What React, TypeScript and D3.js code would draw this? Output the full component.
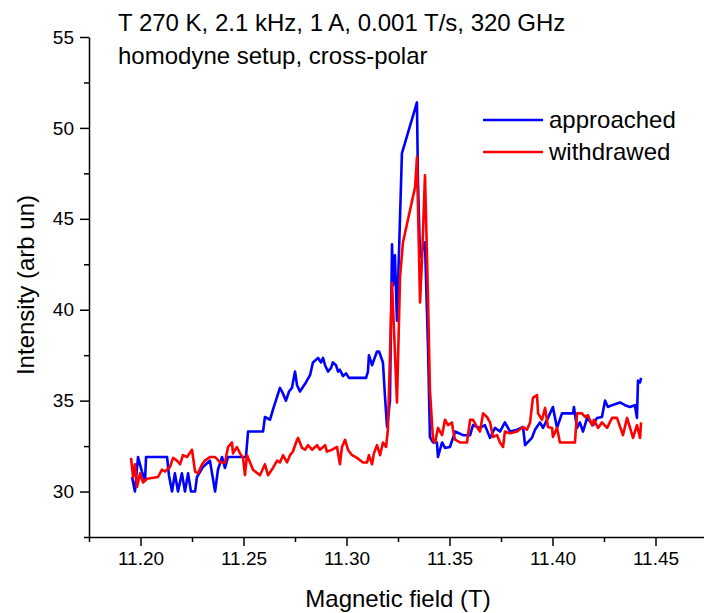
import React, { useEffect, useRef } from "react";
import * as d3 from "d3";

// field (T), intensity (arb un)
const approachedField = [
  11.1959, 11.1973, 11.1988, 11.2007, 11.2022, 11.2027, 11.2129, 11.2138, 11.2153, 11.2167,
  11.2182, 11.2201, 11.2216, 11.2231, 11.2245, 11.2265, 11.2274, 11.2303, 11.2337, 11.2362,
  11.2376, 11.2396, 11.241, 11.2425, 11.2512, 11.2522, 11.2595, 11.2604, 11.2629, 11.2643,
  11.2677, 11.2687, 11.2706, 11.2721, 11.2735, 11.275, 11.276, 11.2774, 11.2803, 11.2823,
  11.2837, 11.2862, 11.2876, 11.2886, 11.2896, 11.291, 11.2925, 11.2934, 11.2949, 11.2959,
  11.2968, 11.2983, 11.2998, 11.3012, 11.3095, 11.3104, 11.3109, 11.3124, 11.3148, 11.3158,
  11.3177, 11.3187, 11.3197, 11.3211, 11.3221, 11.3226, 11.3235, 11.3245, 11.3269, 11.3342,
  11.3347, 11.3357, 11.3381, 11.3396, 11.3405, 11.342, 11.3439, 11.3444, 11.3464, 11.3478,
  11.3502, 11.3527, 11.3566, 11.36, 11.3614, 11.3648, 11.3672, 11.3697, 11.3721, 11.3745,
  11.3769, 11.3794, 11.3828, 11.3857, 11.3867, 11.39, 11.3915, 11.3939, 11.3954, 11.3978,
  11.4002, 11.4022, 11.4046, 11.41, 11.4104, 11.4119, 11.4133, 11.4148, 11.4168, 11.4197,
  11.4216, 11.424, 11.4255, 11.4269, 11.4289, 11.4328, 11.4352, 11.4376, 11.44, 11.441,
  11.4415, 11.4425, 11.443,
];
const approachedValue = [
  30.8, 30.0, 31.9, 31.1, 30.6, 31.9, 31.9, 30.9, 30.0, 31.0,
  30.0, 31.0, 30.0, 31.0, 30.0, 30.0, 30.8, 31.35, 31.7, 30.0,
  31.2, 31.9, 31.3, 31.9, 31.9, 33.3, 33.3, 34.1, 33.95, 34.5,
  35.7, 35.5, 35.0, 35.5, 35.7, 36.6, 35.85, 35.5, 36.0, 36.4,
  37.1, 37.35, 37.1, 37.35, 36.95, 36.6, 36.8, 37.1, 36.95, 36.6,
  36.7, 36.35, 36.5, 36.25, 36.25, 36.6, 37.5, 36.95, 37.7, 37.7,
  37.1, 35.2, 33.55, 35.0, 43.6, 41.35, 43.0, 39.4, 48.6, 51.4,
  47.0, 42.9, 43.7, 37.8, 33.0, 32.7, 32.7, 31.9, 32.7, 32.4,
  32.45, 33.3, 33.1, 33.1, 33.65, 33.5, 33.65, 32.95, 33.5, 33.3,
  33.8, 33.3, 33.4, 33.55, 32.55, 32.95, 33.4, 33.8, 33.5, 34.05,
  34.65, 33.5, 34.3, 34.3, 34.65, 33.5, 33.8, 33.3, 34.05, 33.65,
  34.05, 34.1, 35.0, 34.65, 34.75, 34.9, 34.75, 34.65, 34.75, 34.05,
  36.1, 36.0, 36.25,
];

const withdrawedField = [
  11.1954, 11.1964, 11.1973, 11.1983, 11.1998, 11.2012, 11.2032, 11.2085, 11.2104, 11.2119,
  11.2143, 11.2158, 11.2177, 11.2192, 11.2206, 11.2226, 11.225, 11.2265, 11.2279, 11.2299,
  11.2313, 11.2337, 11.2362, 11.2386, 11.241, 11.2425, 11.2444, 11.2449, 11.2468, 11.2483,
  11.2498, 11.2507, 11.2517, 11.2532, 11.2546, 11.258, 11.2604, 11.2619, 11.2643, 11.2663,
  11.2677, 11.2692, 11.2711, 11.2726, 11.274, 11.276, 11.2765, 11.2784, 11.2799, 11.2813,
  11.2833, 11.2857, 11.2871, 11.2896, 11.2905, 11.293, 11.2954, 11.2968, 11.2978, 11.2993,
  11.3007, 11.3027, 11.3051, 11.308, 11.31, 11.3109, 11.3124, 11.3133, 11.3148, 11.3163,
  11.3177, 11.3192, 11.3201, 11.3221, 11.3245, 11.326, 11.3274, 11.3333, 11.3342, 11.3357,
  11.3367, 11.3381, 11.3396, 11.3405, 11.342, 11.343, 11.3444, 11.3464, 11.3478, 11.3493,
  11.3512, 11.3517, 11.3527, 11.3551, 11.3585, 11.36, 11.3614, 11.3633, 11.3648, 11.3663,
  11.3682, 11.3697, 11.3711, 11.3731, 11.3745, 11.376, 11.3769, 11.3794, 11.3828, 11.3857,
  11.3876, 11.3891, 11.3905, 11.3925, 11.393, 11.3949, 11.3964, 11.3978, 11.3998, 11.4002,
  11.4022, 11.4036, 11.4109, 11.4119, 11.4143, 11.4158, 11.4172, 11.4192, 11.4201, 11.4221,
  11.424, 11.4265, 11.4289, 11.4313, 11.4342, 11.4362, 11.4391, 11.441, 11.4425, 11.443,
];
const withdrawedValue = [
  31.85, 30.8, 31.5, 30.25, 31.0, 30.5, 30.7, 30.8, 31.2, 31.1,
  31.35, 31.85, 31.7, 31.5, 32.0, 31.9, 32.3, 31.1, 31.0, 31.5,
  31.7, 31.9, 31.9, 31.6, 31.6, 32.45, 32.7, 32.1, 32.45, 32.1,
  31.85, 30.9, 32.0, 31.6, 31.2, 30.9, 31.5, 30.9, 31.3, 31.7,
  31.6, 32.0, 31.6, 32.0, 32.2, 32.85, 32.95, 32.4, 32.3, 32.55,
  32.3, 32.55, 32.3, 32.55, 32.2, 32.3, 32.45, 31.5, 32.45, 32.85,
  32.3, 32.0, 31.85, 31.6, 31.6, 32.0, 31.5, 32.1, 32.55, 32.0,
  32.7, 32.45, 33.4, 41.5, 34.9, 41.8, 43.7, 46.75, 48.4, 40.4,
  42.9, 47.4, 40.5, 35.6, 32.85, 32.7, 33.5, 33.1, 33.95, 33.65,
  33.8, 33.4, 32.85, 32.7, 32.7, 33.95, 33.95, 33.55, 33.3, 34.3,
  34.1, 33.8, 33.0, 33.1, 32.7, 32.45, 33.3, 33.2, 33.3, 33.55,
  33.4, 33.8, 35.15, 35.3, 34.3, 33.95, 34.6, 33.55, 33.5, 33.0,
  33.5, 32.7, 32.7, 34.3, 34.3, 34.1, 34.2, 33.65, 33.95, 33.5,
  33.8, 33.5, 34.05, 34.05, 33.1, 34.05, 32.95, 33.65, 32.95, 33.8,
];

const xMajor = [11.2, 11.25, 11.3, 11.35, 11.4, 11.45];
const xMinor = [11.175, 11.225, 11.275, 11.325, 11.375, 11.425, 11.475];
const yMajor = [30, 35, 40, 45, 50, 55];
const yMinor = [27.5, 32.5, 37.5, 42.5, 47.5, 52.5];

const seriesNames = ["approached", "withdrawed"];
const seriesColors = ["#0000ff", "#ff0000"];
const titleLines = ["T 270 K, 2.1 kHz, 1 A, 0.001 T/s, 320 GHz", "homodyne setup, cross-polar"];

const font = "'Liberation Sans', Arial, sans-serif";

export default function App() {
  const svgRef = useRef<SVGSVGElement>(null);

  useEffect(() => {
    const svg = d3.select(svgRef.current);
    svg.selectAll("*").remove();

    const x = d3.scaleLinear().domain([11.175, 11.475]).range([89, 707]);
    const y = d3.scaleLinear().domain([27.5, 55]).range([537, 37]);

    const styleAxis = (g: any) => {
      g.selectAll("path").attr("stroke", "#000").attr("stroke-width", 1.5);
      g.selectAll("line").attr("stroke", "#000").attr("stroke-width", 1.5);
      g.selectAll("text").attr("font-family", font).attr("font-size", 19).attr("fill", "#000");
    };

    svg.append("g")
      .attr("transform", "translate(0,537)")
      .call(d3.axisBottom(x).tickValues(xMinor).tickSize(5).tickFormat(() => "").tickSizeOuter(0))
      .call(styleAxis);
    svg.append("g")
      .attr("transform", "translate(0,537)")
      .call(d3.axisBottom(x).tickValues(xMajor).tickSize(9).tickPadding(6).tickFormat(d3.format(".2f")))
      .call((g: any) => g.select(".domain").remove())
      .call(styleAxis);

    svg.append("g")
      .attr("transform", "translate(89,0)")
      .call(d3.axisLeft(y).tickValues(yMinor).tickSize(5).tickFormat(() => "").tickSizeOuter(0))
      .call(styleAxis);
    svg.append("g")
      .attr("transform", "translate(89,0)")
      .call(d3.axisLeft(y).tickValues(yMajor).tickSize(9).tickPadding(6).tickFormat(d3.format("d")))
      .call((g: any) => g.select(".domain").remove())
      .call(styleAxis);

    const line = d3.line<[number, number]>().x(d => x(d[0])).y(d => y(d[1]));
    const series = [
      d3.zip(approachedField, approachedValue) as [number, number][],
      d3.zip(withdrawedField, withdrawedValue) as [number, number][],
    ];

    svg.selectAll(".series")
      .data(series)
      .join("path")
      .attr("class", "series")
      .attr("d", d => line(d))
      .attr("fill", "none")
      .attr("stroke", (d, i) => seriesColors[i])
      .attr("stroke-width", 2.6)
      .attr("stroke-linejoin", "round");

    // axis titles
    svg.append("text")
      .attr("x", 398).attr("y", 607)
      .attr("text-anchor", "middle")
      .attr("font-family", font).attr("font-size", 24)
      .text("Magnetic field (T)");
    svg.append("text")
      .attr("transform", "translate(34,285) rotate(-90)")
      .attr("text-anchor", "middle")
      .attr("font-family", font).attr("font-size", 24)
      .text("Intensity (arb un)");

    // heading
    svg.selectAll(".title")
      .data(titleLines)
      .join("text")
      .attr("class", "title")
      .attr("x", 118)
      .attr("y", (d, i) => 31 + i * 33)
      .attr("font-family", font).attr("font-size", 24)
      .text(d => d);

    // legend
    const legend = svg.append("g");
    seriesNames.forEach((name, i) => {
      legend.append("line")
        .attr("x1", 483).attr("x2", 543)
        .attr("y1", 120 + i * 32).attr("y2", 120 + i * 32)
        .attr("stroke", seriesColors[i]).attr("stroke-width", 2.6);
      legend.append("text")
        .attr("x", 549).attr("y", 128 + i * 32)
        .attr("font-family", font).attr("font-size", 24)
        .text(name);
    });
  }, []);

  return (
    <svg ref={svgRef} width={704} height={613}
      style={{ position: "absolute", left: 0, top: 0, background: "#fff" }} />
  );
}
